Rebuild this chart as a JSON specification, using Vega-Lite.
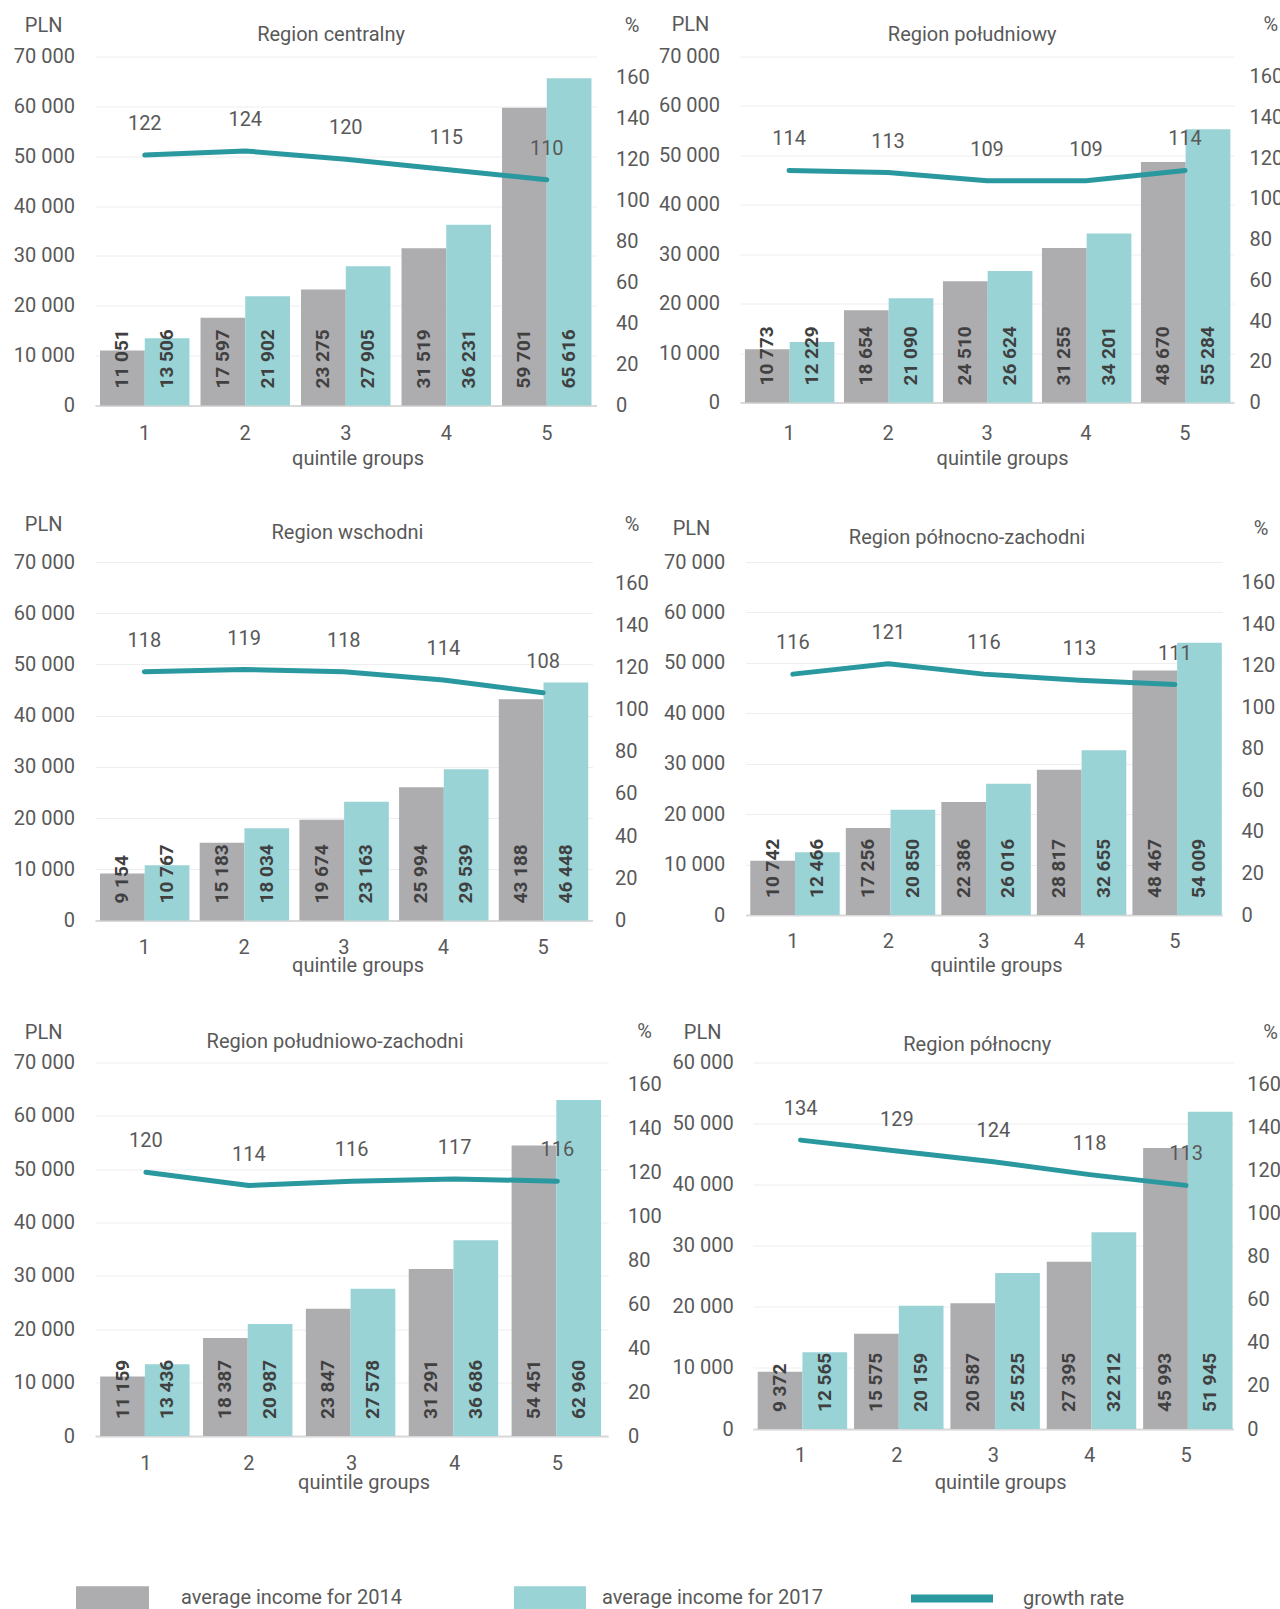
{
  "$schema": "https://vega.github.io/schema/vega-lite/v6.json",
  "background": "white",
  "autosize": {"type": "pad"},
  "padding": {"left": 13, "top": 14.5, "right": 0, "bottom": 10},
  "datasets": {
    "bars": [
      {"region": "c", "q": 1, "series": "average income for 2014", "value": 11051},
      {"region": "c", "q": 2, "series": "average income for 2014", "value": 17597},
      {"region": "c", "q": 3, "series": "average income for 2014", "value": 23275},
      {"region": "c", "q": 4, "series": "average income for 2014", "value": 31519},
      {"region": "c", "q": 5, "series": "average income for 2014", "value": 59701},
      {"region": "c", "q": 1, "series": "average income for 2017", "value": 13506},
      {"region": "c", "q": 2, "series": "average income for 2017", "value": 21902},
      {"region": "c", "q": 3, "series": "average income for 2017", "value": 27905},
      {"region": "c", "q": 4, "series": "average income for 2017", "value": 36231},
      {"region": "c", "q": 5, "series": "average income for 2017", "value": 65616},
      {"region": "s", "q": 1, "series": "average income for 2014", "value": 10773},
      {"region": "s", "q": 2, "series": "average income for 2014", "value": 18654},
      {"region": "s", "q": 3, "series": "average income for 2014", "value": 24510},
      {"region": "s", "q": 4, "series": "average income for 2014", "value": 31255},
      {"region": "s", "q": 5, "series": "average income for 2014", "value": 48670},
      {"region": "s", "q": 1, "series": "average income for 2017", "value": 12229},
      {"region": "s", "q": 2, "series": "average income for 2017", "value": 21090},
      {"region": "s", "q": 3, "series": "average income for 2017", "value": 26624},
      {"region": "s", "q": 4, "series": "average income for 2017", "value": 34201},
      {"region": "s", "q": 5, "series": "average income for 2017", "value": 55284},
      {"region": "e", "q": 1, "series": "average income for 2014", "value": 9154},
      {"region": "e", "q": 2, "series": "average income for 2014", "value": 15183},
      {"region": "e", "q": 3, "series": "average income for 2014", "value": 19674},
      {"region": "e", "q": 4, "series": "average income for 2014", "value": 25994},
      {"region": "e", "q": 5, "series": "average income for 2014", "value": 43188},
      {"region": "e", "q": 1, "series": "average income for 2017", "value": 10767},
      {"region": "e", "q": 2, "series": "average income for 2017", "value": 18034},
      {"region": "e", "q": 3, "series": "average income for 2017", "value": 23163},
      {"region": "e", "q": 4, "series": "average income for 2017", "value": 29539},
      {"region": "e", "q": 5, "series": "average income for 2017", "value": 46448},
      {"region": "nw", "q": 1, "series": "average income for 2014", "value": 10742},
      {"region": "nw", "q": 2, "series": "average income for 2014", "value": 17256},
      {"region": "nw", "q": 3, "series": "average income for 2014", "value": 22386},
      {"region": "nw", "q": 4, "series": "average income for 2014", "value": 28817},
      {"region": "nw", "q": 5, "series": "average income for 2014", "value": 48467},
      {"region": "nw", "q": 1, "series": "average income for 2017", "value": 12466},
      {"region": "nw", "q": 2, "series": "average income for 2017", "value": 20850},
      {"region": "nw", "q": 3, "series": "average income for 2017", "value": 26016},
      {"region": "nw", "q": 4, "series": "average income for 2017", "value": 32655},
      {"region": "nw", "q": 5, "series": "average income for 2017", "value": 54009},
      {"region": "sw", "q": 1, "series": "average income for 2014", "value": 11159},
      {"region": "sw", "q": 2, "series": "average income for 2014", "value": 18387},
      {"region": "sw", "q": 3, "series": "average income for 2014", "value": 23847},
      {"region": "sw", "q": 4, "series": "average income for 2014", "value": 31291},
      {"region": "sw", "q": 5, "series": "average income for 2014", "value": 54451},
      {"region": "sw", "q": 1, "series": "average income for 2017", "value": 13436},
      {"region": "sw", "q": 2, "series": "average income for 2017", "value": 20987},
      {"region": "sw", "q": 3, "series": "average income for 2017", "value": 27578},
      {"region": "sw", "q": 4, "series": "average income for 2017", "value": 36686},
      {"region": "sw", "q": 5, "series": "average income for 2017", "value": 62960},
      {"region": "n", "q": 1, "series": "average income for 2014", "value": 9372},
      {"region": "n", "q": 2, "series": "average income for 2014", "value": 15575},
      {"region": "n", "q": 3, "series": "average income for 2014", "value": 20587},
      {"region": "n", "q": 4, "series": "average income for 2014", "value": 27395},
      {"region": "n", "q": 5, "series": "average income for 2014", "value": 45993},
      {"region": "n", "q": 1, "series": "average income for 2017", "value": 12565},
      {"region": "n", "q": 2, "series": "average income for 2017", "value": 20159},
      {"region": "n", "q": 3, "series": "average income for 2017", "value": 25525},
      {"region": "n", "q": 4, "series": "average income for 2017", "value": 32212},
      {"region": "n", "q": 5, "series": "average income for 2017", "value": 51945}
    ],
    "growth": [
      {"region": "c", "q": 1, "growth": 122}, {"region": "c", "q": 2, "growth": 124}, {"region": "c", "q": 3, "growth": 120}, {"region": "c", "q": 4, "growth": 115}, {"region": "c", "q": 5, "growth": 110},
      {"region": "s", "q": 1, "growth": 114}, {"region": "s", "q": 2, "growth": 113}, {"region": "s", "q": 3, "growth": 109}, {"region": "s", "q": 4, "growth": 109}, {"region": "s", "q": 5, "growth": 114},
      {"region": "e", "q": 1, "growth": 118}, {"region": "e", "q": 2, "growth": 119}, {"region": "e", "q": 3, "growth": 118}, {"region": "e", "q": 4, "growth": 114}, {"region": "e", "q": 5, "growth": 108},
      {"region": "nw", "q": 1, "growth": 116}, {"region": "nw", "q": 2, "growth": 121}, {"region": "nw", "q": 3, "growth": 116}, {"region": "nw", "q": 4, "growth": 113}, {"region": "nw", "q": 5, "growth": 111},
      {"region": "sw", "q": 1, "growth": 120}, {"region": "sw", "q": 2, "growth": 114}, {"region": "sw", "q": 3, "growth": 116}, {"region": "sw", "q": 4, "growth": 117}, {"region": "sw", "q": 5, "growth": 116},
      {"region": "n", "q": 1, "growth": 134}, {"region": "n", "q": 2, "growth": 129}, {"region": "n", "q": 3, "growth": 124}, {"region": "n", "q": 4, "growth": 118}, {"region": "n", "q": 5, "growth": 113}
    ]
  },
  "spacing": 45.5,
  "bounds": "full",
  "vconcat": [
    {
      "hconcat": [
        {
          "width": 501.5, "height": 349,
          "title": {"text": "Region centralny", "dx": -14.7, "dy": 33.5},
          "layer": [
            {
              "data": {"name": "bars"},
              "transform": [{"filter": "datum.region === 'c'"}],
              "layer": [
                {"mark": {"type": "bar"},
                 "encoding": {
                   "x": {"field": "q", "type": "ordinal", "scale": {"paddingInner": 0.11, "paddingOuter": 0.05}, "axis": {"title": "quintile groups", "labelPadding": 27.5, "titleX": 262.5, "titleY": 52.5, "titleAlign": "center", "titleBaseline": "middle"}},
                   "xOffset": {"field": "series", "type": "nominal", "scale": {"paddingInner": 0, "paddingOuter": 0}},
                   "y": {"field": "value", "type": "quantitative", "scale": {"domain": [0, 70000], "nice": false}, "axis": {"title": "PLN", "orient": "left", "values": [0, 10000, 20000, 30000, 40000, 50000, 60000, 70000], "format": ",d", "grid": true, "gridColor": "#EEEEEE", "gridWidth": 1, "labelPadding": 20.5, "titleAngle": 0, "titleX": -51.9, "titleY": -31.5, "titleAlign": "center", "titleBaseline": "middle"}},
                   "color": {"field": "series", "type": "nominal", "scale": {"domain": ["average income for 2014", "average income for 2017", "growth rate"], "range": ["#ADACAF", "#99D3D6", "#2A989F"]},
                     "legend": {"orient": "bottom", "offset": 64, "direction": "horizontal", "columns": 3, "title": null, "symbolSize": 6724, "labelOffset": 4, "columnPadding": 88, "gridAlign": "all", "labelLimit": 400, "labelFontSize": 20, "labelColor": "#595959", "labelFont": "Roboto", "padding": 0, "symbolStrokeWidth": 0, "symbolOpacity": 1,
                       "encode": {"symbols": {"update": {"shape": {"signal": "datum.value === 'growth rate' ? 'M-1.634,-0.1H0.366V0.1H-1.634Z' : datum.value === 'average income for 2017' ? 'M-1.049,-0.28H0.707V0.28H-1.049Z' : 'M-1.463,-0.28H0.317V0.28H-1.463Z'"}}}}}}
                 }},
                {"mark": {"type": "text", "angle": 270, "align": "left", "baseline": "middle", "dx": 17, "fontWeight": "bold", "fontSize": 19, "color": "#404040"},
                 "encoding": {
                   "x": {"field": "q", "type": "ordinal"},
                   "xOffset": {"field": "series", "type": "nominal"},
                   "y": {"datum": 0, "type": "quantitative"},
                   "text": {"field": "value", "type": "quantitative", "format": ",d"}
                 }}
              ]
            },
            {
              "data": {"name": "growth"},
              "transform": [{"filter": "datum.region === 'c'"}],
              "layer": [
                {"mark": {"type": "line", "color": "#2A989F", "strokeWidth": 5, "strokeCap": "round", "strokeJoin": "round"},
                 "encoding": {
                   "x": {"field": "q", "type": "ordinal"},
                   "y": {"field": "growth", "type": "quantitative", "scale": {"domain": [0, 170], "nice": false}, "axis": {"title": "%", "orient": "right", "values": [0, 20, 40, 60, 80, 100, 120, 140, 160], "grid": false, "labelPadding": 19, "titleAngle": 0, "titleX": 35, "titleY": -31.5, "titleAlign": "center", "titleBaseline": "middle"}}
                 }},
                {"mark": {"type": "text", "dy": -31, "fontSize": 20, "color": "#595959"},
                 "encoding": {
                   "x": {"field": "q", "type": "ordinal"},
                   "y": {"field": "growth", "type": "quantitative"},
                   "text": {"field": "growth", "type": "quantitative", "format": "d"}
                 }}
              ]
            }
          ],
          "resolve": {"scale": {"y": "independent"}, "axis": {"y": "independent"}}
        },
        {
          "width": 494, "height": 346,
          "title": {"text": "Region południowy", "dx": -14.9, "dy": 34},
          "layer": [
            {
              "data": {"name": "bars"},
              "transform": [{"filter": "datum.region === 's'"}],
              "layer": [
                {"mark": {"type": "bar"},
                 "encoding": {
                   "x": {"field": "q", "type": "ordinal", "scale": {"paddingInner": 0.11, "paddingOuter": 0.05}, "axis": {"title": "quintile groups", "labelPadding": 30.5, "titleX": 262, "titleY": 55.5, "titleAlign": "center", "titleBaseline": "middle"}},
                   "xOffset": {"field": "series", "type": "nominal", "scale": {"paddingInner": 0, "paddingOuter": 0}},
                   "y": {"field": "value", "type": "quantitative", "scale": {"domain": [0, 70000], "nice": false}, "axis": {"title": "PLN", "orient": "left", "values": [0, 10000, 20000, 30000, 40000, 50000, 60000, 70000], "format": ",d", "grid": true, "gridColor": "#EEEEEE", "gridWidth": 1, "labelPadding": 20.4, "titleAngle": 0, "titleX": -50, "titleY": -32, "titleAlign": "center", "titleBaseline": "middle"}},
                   "color": {"field": "series", "type": "nominal", "scale": {"domain": ["average income for 2014", "average income for 2017", "growth rate"], "range": ["#ADACAF", "#99D3D6", "#2A989F"]},
                     "legend": {"orient": "bottom", "offset": 64, "direction": "horizontal", "columns": 3, "title": null, "symbolSize": 6724, "labelOffset": 4, "columnPadding": 88, "gridAlign": "all", "labelLimit": 400, "labelFontSize": 20, "labelColor": "#595959", "labelFont": "Roboto", "padding": 0, "symbolStrokeWidth": 0, "symbolOpacity": 1,
                       "encode": {"symbols": {"update": {"shape": {"signal": "datum.value === 'growth rate' ? 'M-1.634,-0.1H0.366V0.1H-1.634Z' : datum.value === 'average income for 2017' ? 'M-1.049,-0.28H0.707V0.28H-1.049Z' : 'M-1.463,-0.28H0.317V0.28H-1.463Z'"}}}}}}
                 }},
                {"mark": {"type": "text", "angle": 270, "align": "left", "baseline": "middle", "dx": 17, "fontWeight": "bold", "fontSize": 19, "color": "#404040"},
                 "encoding": {
                   "x": {"field": "q", "type": "ordinal"},
                   "xOffset": {"field": "series", "type": "nominal"},
                   "y": {"datum": 0, "type": "quantitative"},
                   "text": {"field": "value", "type": "quantitative", "format": ",d"}
                 }}
              ]
            },
            {
              "data": {"name": "growth"},
              "transform": [{"filter": "datum.region === 's'"}],
              "layer": [
                {"mark": {"type": "line", "color": "#2A989F", "strokeWidth": 5, "strokeCap": "round", "strokeJoin": "round"},
                 "encoding": {
                   "x": {"field": "q", "type": "ordinal"},
                   "y": {"field": "growth", "type": "quantitative", "scale": {"domain": [0, 170], "nice": false}, "axis": {"title": "%", "orient": "right", "values": [0, 20, 40, 60, 80, 100, 120, 140, 160], "grid": false, "labelPadding": 15, "titleAngle": 0, "titleX": 36.3, "titleY": -32, "titleAlign": "center", "titleBaseline": "middle"}}
                 }},
                {"mark": {"type": "text", "dy": -31, "fontSize": 20, "color": "#595959"},
                 "encoding": {
                   "x": {"field": "q", "type": "ordinal"},
                   "y": {"field": "growth", "type": "quantitative"},
                   "text": {"field": "growth", "type": "quantitative", "format": "d"}
                 }}
              ]
            }
          ],
          "resolve": {"scale": {"y": "independent"}, "axis": {"y": "independent"}}
        }
      ],
      "spacing": 143,
      "bounds": "flush"
    },
    {
      "hconcat": [
        {
          "width": 497.5, "height": 358.5,
          "title": {"text": "Region wschodni", "dx": 3.7, "dy": 33},
          "layer": [
            {
              "data": {"name": "bars"},
              "transform": [{"filter": "datum.region === 'e'"}],
              "layer": [
                {"mark": {"type": "bar"},
                 "encoding": {
                   "x": {"field": "q", "type": "ordinal", "scale": {"paddingInner": 0.11, "paddingOuter": 0.05}, "axis": {"title": "quintile groups", "labelPadding": 26.5, "titleX": 262.5, "titleY": 45, "titleAlign": "center", "titleBaseline": "middle"}},
                   "xOffset": {"field": "series", "type": "nominal", "scale": {"paddingInner": 0, "paddingOuter": 0}},
                   "y": {"field": "value", "type": "quantitative", "scale": {"domain": [0, 70000], "nice": false}, "axis": {"title": "PLN", "orient": "left", "values": [0, 10000, 20000, 30000, 40000, 50000, 60000, 70000], "format": ",d", "grid": true, "gridColor": "#EEEEEE", "gridWidth": 1, "labelPadding": 20.5, "titleAngle": 0, "titleX": -51.9, "titleY": -38, "titleAlign": "center", "titleBaseline": "middle"}},
                   "color": {"field": "series", "type": "nominal", "scale": {"domain": ["average income for 2014", "average income for 2017", "growth rate"], "range": ["#ADACAF", "#99D3D6", "#2A989F"]},
                     "legend": {"orient": "bottom", "offset": 64, "direction": "horizontal", "columns": 3, "title": null, "symbolSize": 6724, "labelOffset": 4, "columnPadding": 88, "gridAlign": "all", "labelLimit": 400, "labelFontSize": 20, "labelColor": "#595959", "labelFont": "Roboto", "padding": 0, "symbolStrokeWidth": 0, "symbolOpacity": 1,
                       "encode": {"symbols": {"update": {"shape": {"signal": "datum.value === 'growth rate' ? 'M-1.634,-0.1H0.366V0.1H-1.634Z' : datum.value === 'average income for 2017' ? 'M-1.049,-0.28H0.707V0.28H-1.049Z' : 'M-1.463,-0.28H0.317V0.28H-1.463Z'"}}}}}}
                 }},
                {"mark": {"type": "text", "angle": 270, "align": "left", "baseline": "middle", "dx": 17, "fontWeight": "bold", "fontSize": 19, "color": "#404040"},
                 "encoding": {
                   "x": {"field": "q", "type": "ordinal"},
                   "xOffset": {"field": "series", "type": "nominal"},
                   "y": {"datum": 0, "type": "quantitative"},
                   "text": {"field": "value", "type": "quantitative", "format": ",d"}
                 }}
              ]
            },
            {
              "data": {"name": "growth"},
              "transform": [{"filter": "datum.region === 'e'"}],
              "layer": [
                {"mark": {"type": "line", "color": "#2A989F", "strokeWidth": 5, "strokeCap": "round", "strokeJoin": "round"},
                 "encoding": {
                   "x": {"field": "q", "type": "ordinal"},
                   "y": {"field": "growth", "type": "quantitative", "scale": {"domain": [0, 170], "nice": false}, "axis": {"title": "%", "orient": "right", "values": [0, 20, 40, 60, 80, 100, 120, 140, 160], "grid": false, "labelPadding": 22, "titleAngle": 0, "titleX": 39, "titleY": -38, "titleAlign": "center", "titleBaseline": "middle"}}
                 }},
                {"mark": {"type": "text", "dy": -31, "fontSize": 20, "color": "#595959"},
                 "encoding": {
                   "x": {"field": "q", "type": "ordinal"},
                   "y": {"field": "growth", "type": "quantitative"},
                   "text": {"field": "growth", "type": "quantitative", "format": "d"}
                 }}
              ]
            }
          ],
          "resolve": {"scale": {"y": "independent"}, "axis": {"y": "independent"}}
        },
        {
          "width": 476.7, "height": 353,
          "title": {"text": "Region północno-zachodni", "dx": -16.9, "dy": 34},
          "layer": [
            {
              "data": {"name": "bars"},
              "transform": [{"filter": "datum.region === 'nw'"}],
              "layer": [
                {"mark": {"type": "bar"},
                 "encoding": {
                   "x": {"field": "q", "type": "ordinal", "scale": {"paddingInner": 0.11, "paddingOuter": 0.05}, "axis": {"title": "quintile groups", "labelPadding": 26.5, "titleX": 250.5, "titleY": 50.5, "titleAlign": "center", "titleBaseline": "middle"}},
                   "xOffset": {"field": "series", "type": "nominal", "scale": {"paddingInner": 0, "paddingOuter": 0}},
                   "y": {"field": "value", "type": "quantitative", "scale": {"domain": [0, 70000], "nice": false}, "axis": {"title": "PLN", "orient": "left", "values": [0, 10000, 20000, 30000, 40000, 50000, 60000, 70000], "format": ",d", "grid": true, "gridColor": "#EEEEEE", "gridWidth": 1, "labelPadding": 20.8, "titleAngle": 0, "titleX": -54.5, "titleY": -34, "titleAlign": "center", "titleBaseline": "middle"}},
                   "color": {"field": "series", "type": "nominal", "scale": {"domain": ["average income for 2014", "average income for 2017", "growth rate"], "range": ["#ADACAF", "#99D3D6", "#2A989F"]},
                     "legend": {"orient": "bottom", "offset": 64, "direction": "horizontal", "columns": 3, "title": null, "symbolSize": 6724, "labelOffset": 4, "columnPadding": 88, "gridAlign": "all", "labelLimit": 400, "labelFontSize": 20, "labelColor": "#595959", "labelFont": "Roboto", "padding": 0, "symbolStrokeWidth": 0, "symbolOpacity": 1,
                       "encode": {"symbols": {"update": {"shape": {"signal": "datum.value === 'growth rate' ? 'M-1.634,-0.1H0.366V0.1H-1.634Z' : datum.value === 'average income for 2017' ? 'M-1.049,-0.28H0.707V0.28H-1.049Z' : 'M-1.463,-0.28H0.317V0.28H-1.463Z'"}}}}}}
                 }},
                {"mark": {"type": "text", "angle": 270, "align": "left", "baseline": "middle", "dx": 17, "fontWeight": "bold", "fontSize": 19, "color": "#404040"},
                 "encoding": {
                   "x": {"field": "q", "type": "ordinal"},
                   "xOffset": {"field": "series", "type": "nominal"},
                   "y": {"datum": 0, "type": "quantitative"},
                   "text": {"field": "value", "type": "quantitative", "format": ",d"}
                 }}
              ]
            },
            {
              "data": {"name": "growth"},
              "transform": [{"filter": "datum.region === 'nw'"}],
              "layer": [
                {"mark": {"type": "line", "color": "#2A989F", "strokeWidth": 5, "strokeCap": "round", "strokeJoin": "round"},
                 "encoding": {
                   "x": {"field": "q", "type": "ordinal"},
                   "y": {"field": "growth", "type": "quantitative", "scale": {"domain": [0, 170], "nice": false}, "axis": {"title": "%", "orient": "right", "values": [0, 20, 40, 60, 80, 100, 120, 140, 160], "grid": false, "labelPadding": 18.8, "titleAngle": 0, "titleX": 38.3, "titleY": -34, "titleAlign": "center", "titleBaseline": "middle"}}
                 }},
                {"mark": {"type": "text", "dy": -31, "fontSize": 20, "color": "#595959"},
                 "encoding": {
                   "x": {"field": "q", "type": "ordinal"},
                   "y": {"field": "growth", "type": "quantitative"},
                   "text": {"field": "growth", "type": "quantitative", "format": "d"}
                 }}
              ]
            }
          ],
          "resolve": {"scale": {"y": "independent"}, "axis": {"y": "independent"}}
        }
      ],
      "spacing": 152.5,
      "bounds": "flush"
    },
    {
      "hconcat": [
        {
          "width": 513.3, "height": 373.5,
          "title": {"text": "Region południowo-zachodni", "dx": -16.6, "dy": 34},
          "layer": [
            {
              "data": {"name": "bars"},
              "transform": [{"filter": "datum.region === 'sw'"}],
              "layer": [
                {"mark": {"type": "bar"},
                 "encoding": {
                   "x": {"field": "q", "type": "ordinal", "scale": {"paddingInner": 0.11, "paddingOuter": 0.05}, "axis": {"title": "quintile groups", "labelPadding": 27, "titleX": 268.5, "titleY": 46, "titleAlign": "center", "titleBaseline": "middle"}},
                   "xOffset": {"field": "series", "type": "nominal", "scale": {"paddingInner": 0, "paddingOuter": 0}},
                   "y": {"field": "value", "type": "quantitative", "scale": {"domain": [0, 70000], "nice": false}, "axis": {"title": "PLN", "orient": "left", "values": [0, 10000, 20000, 30000, 40000, 50000, 60000, 70000], "format": ",d", "grid": true, "gridColor": "#EEEEEE", "gridWidth": 1, "labelPadding": 20.5, "titleAngle": 0, "titleX": -51.9, "titleY": -30, "titleAlign": "center", "titleBaseline": "middle"}},
                   "color": {"field": "series", "type": "nominal", "scale": {"domain": ["average income for 2014", "average income for 2017", "growth rate"], "range": ["#ADACAF", "#99D3D6", "#2A989F"]},
                     "legend": {"orient": "bottom", "offset": 64, "direction": "horizontal", "columns": 3, "title": null, "symbolSize": 6724, "labelOffset": 4, "columnPadding": 88, "gridAlign": "all", "labelLimit": 400, "labelFontSize": 20, "labelColor": "#595959", "labelFont": "Roboto", "padding": 0, "symbolStrokeWidth": 0, "symbolOpacity": 1,
                       "encode": {"symbols": {"update": {"shape": {"signal": "datum.value === 'growth rate' ? 'M-1.634,-0.1H0.366V0.1H-1.634Z' : datum.value === 'average income for 2017' ? 'M-1.049,-0.28H0.707V0.28H-1.049Z' : 'M-1.463,-0.28H0.317V0.28H-1.463Z'"}}}}}}
                 }},
                {"mark": {"type": "text", "angle": 270, "align": "left", "baseline": "middle", "dx": 17, "fontWeight": "bold", "fontSize": 19, "color": "#404040"},
                 "encoding": {
                   "x": {"field": "q", "type": "ordinal"},
                   "xOffset": {"field": "series", "type": "nominal"},
                   "y": {"datum": 0, "type": "quantitative"},
                   "text": {"field": "value", "type": "quantitative", "format": ",d"}
                 }}
              ]
            },
            {
              "data": {"name": "growth"},
              "transform": [{"filter": "datum.region === 'sw'"}],
              "layer": [
                {"mark": {"type": "line", "color": "#2A989F", "strokeWidth": 5, "strokeCap": "round", "strokeJoin": "round"},
                 "encoding": {
                   "x": {"field": "q", "type": "ordinal"},
                   "y": {"field": "growth", "type": "quantitative", "scale": {"domain": [0, 170], "nice": false}, "axis": {"title": "%", "orient": "right", "values": [0, 20, 40, 60, 80, 100, 120, 140, 160], "grid": false, "labelPadding": 19.2, "titleAngle": 0, "titleX": 35.8, "titleY": -31, "titleAlign": "center", "titleBaseline": "middle"}}
                 }},
                {"mark": {"type": "text", "dy": -31, "fontSize": 20, "color": "#595959"},
                 "encoding": {
                   "x": {"field": "q", "type": "ordinal"},
                   "y": {"field": "growth", "type": "quantitative"},
                   "text": {"field": "growth", "type": "quantitative", "format": "d"}
                 }}
              ]
            }
          ],
          "resolve": {"scale": {"y": "independent"}, "axis": {"y": "independent"}}
        },
        {
          "width": 480.8, "height": 366.5,
          "title": {"text": "Region północny", "dx": -16.1, "dy": 36},
          "layer": [
            {
              "data": {"name": "bars"},
              "transform": [{"filter": "datum.region === 'n'"}],
              "layer": [
                {"mark": {"type": "bar"},
                 "encoding": {
                   "x": {"field": "q", "type": "ordinal", "scale": {"paddingInner": 0.11, "paddingOuter": 0.05}, "axis": {"title": "quintile groups", "labelPadding": 26.5, "titleX": 247.3, "titleY": 53, "titleAlign": "center", "titleBaseline": "middle"}},
                   "xOffset": {"field": "series", "type": "nominal", "scale": {"paddingInner": 0, "paddingOuter": 0}},
                   "y": {"field": "value", "type": "quantitative", "scale": {"domain": [0, 60000], "nice": false}, "axis": {"title": "PLN", "orient": "left", "values": [0, 10000, 20000, 30000, 40000, 50000, 60000], "format": ",d", "grid": true, "gridColor": "#EEEEEE", "gridWidth": 1, "labelPadding": 19.7, "titleAngle": 0, "titleX": -50.7, "titleY": -30, "titleAlign": "center", "titleBaseline": "middle"}},
                   "color": {"field": "series", "type": "nominal", "scale": {"domain": ["average income for 2014", "average income for 2017", "growth rate"], "range": ["#ADACAF", "#99D3D6", "#2A989F"]},
                     "legend": {"orient": "bottom", "offset": 64, "direction": "horizontal", "columns": 3, "title": null, "symbolSize": 6724, "labelOffset": 4, "columnPadding": 88, "gridAlign": "all", "labelLimit": 400, "labelFontSize": 20, "labelColor": "#595959", "labelFont": "Roboto", "padding": 0, "symbolStrokeWidth": 0, "symbolOpacity": 1,
                       "encode": {"symbols": {"update": {"shape": {"signal": "datum.value === 'growth rate' ? 'M-1.634,-0.1H0.366V0.1H-1.634Z' : datum.value === 'average income for 2017' ? 'M-1.049,-0.28H0.707V0.28H-1.049Z' : 'M-1.463,-0.28H0.317V0.28H-1.463Z'"}}}}}}
                 }},
                {"mark": {"type": "text", "angle": 270, "align": "left", "baseline": "middle", "dx": 17, "fontWeight": "bold", "fontSize": 19, "color": "#404040"},
                 "encoding": {
                   "x": {"field": "q", "type": "ordinal"},
                   "xOffset": {"field": "series", "type": "nominal"},
                   "y": {"datum": 0, "type": "quantitative"},
                   "text": {"field": "value", "type": "quantitative", "format": ",d"}
                 }}
              ]
            },
            {
              "data": {"name": "growth"},
              "transform": [{"filter": "datum.region === 'n'"}],
              "layer": [
                {"mark": {"type": "line", "color": "#2A989F", "strokeWidth": 5, "strokeCap": "round", "strokeJoin": "round"},
                 "encoding": {
                   "x": {"field": "q", "type": "ordinal"},
                   "y": {"field": "growth", "type": "quantitative", "scale": {"domain": [0, 170], "nice": false}, "axis": {"title": "%", "orient": "right", "values": [0, 20, 40, 60, 80, 100, 120, 140, 160], "grid": false, "labelPadding": 13, "titleAngle": 0, "titleX": 36.5, "titleY": -30, "titleAlign": "center", "titleBaseline": "middle"}}
                 }},
                {"mark": {"type": "text", "dy": -31, "fontSize": 20, "color": "#595959"},
                 "encoding": {
                   "x": {"field": "q", "type": "ordinal"},
                   "y": {"field": "growth", "type": "quantitative"},
                   "text": {"field": "growth", "type": "quantitative", "format": "d"}
                 }}
              ]
            }
          ],
          "resolve": {"scale": {"y": "independent"}, "axis": {"y": "independent"}}
        }
      ],
      "spacing": 143.9,
      "bounds": "flush"
    }
  ],
  "resolve": {"scale": {"color": "shared"}, "legend": {"color": "shared"}},
  "config": {
    "font": "Roboto",
    "view": {"stroke": null},
    "locale": {"number": {"decimal": ",", "thousands": " ", "grouping": [3], "currency": ["", " zł"]}},
    "axis": {"ticks": false, "domain": false, "grid": false, "labelFontSize": 20, "titleFontSize": 20, "labelColor": "#595959", "titleColor": "#595959", "titleFontWeight": "normal", "labelFont": "Roboto", "titleFont": "Roboto"},
    "axisX": {"domain": true, "domainColor": "#D9D9D9", "domainWidth": 2, "labelAngle": 0, "labelBaseline": "middle", "grid": false},
    "title": {"fontSize": 20, "fontWeight": "normal", "color": "#595959", "font": "Roboto", "anchor": "middle", "frame": "group", "baseline": "middle", "offset": 0}
  }
}
